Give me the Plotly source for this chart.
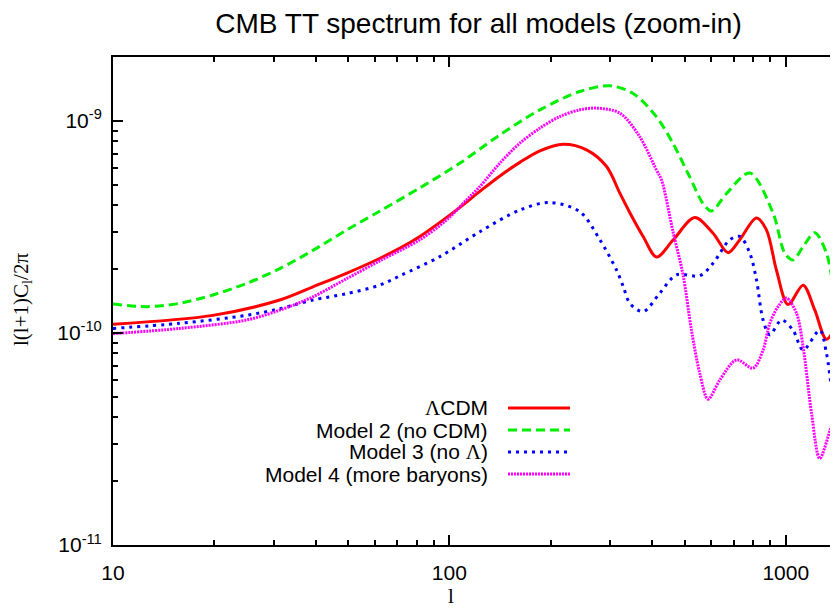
import math
import plotly.graph_objects as go

# multipole l values and l(l+1)C_l/2pi for each model
l_lcdm = [10, 19.8, 31.3, 39.3, 49.4, 62.2, 71.3, 81.7, 93.7, 107.5, 123.2, 141.3, 162, 185.8, 217.9, 255.7, 293.3, 321.2, 343.9, 376.7, 412.9, 462.4, 536.3, 608, 674, 730, 818, 876, 938, 1016, 1126, 1220, 1321, 1428]
c_lcdm = [1.10e-10, 1.21e-10, 1.43e-10, 1.65e-10, 1.91e-10, 2.25e-10, 2.51e-10, 2.85e-10, 3.32e-10, 3.91e-10, 4.65e-10, 5.50e-10, 6.37e-10, 7.22e-10, 7.76e-10, 7.30e-10, 6.09e-10, 4.56e-10, 3.69e-10, 2.85e-10, 2.28e-10, 2.74e-10, 3.50e-10, 2.95e-10, 2.39e-10, 2.75e-10, 3.48e-10, 3.06e-10, 1.98e-10, 1.36e-10, 1.68e-10, 1.28e-10, 0.934e-10, 1.13e-10]

l_m2 = [10, 12.6, 15.8, 19.8, 24.9, 31.3, 39.3, 49.4, 62.2, 81.7, 107.5, 141.3, 185.8, 244.2, 300, 351.8, 412.9, 462.4, 518.2, 567.8, 601.5, 666.6, 781.7, 917, 993, 1051, 1126, 1220, 1321, 1398, 1428]
c_m2 = [1.37e-10, 1.33e-10, 1.38e-10, 1.51e-10, 1.71e-10, 2.01e-10, 2.45e-10, 3.05e-10, 3.76e-10, 4.83e-10, 6.32e-10, 8.59e-10, 11.27e-10, 13.75e-10, 14.63e-10, 13.45e-10, 10.44e-10, 7.81e-10, 5.44e-10, 4.07e-10, 3.76e-10, 4.54e-10, 5.68e-10, 3.67e-10, 2.38e-10, 2.21e-10, 2.55e-10, 2.97e-10, 2.38e-10, 1.54e-10, 1.42e-10]

l_m3 = [10, 15.8, 24.9, 31.3, 39.3, 49.4, 62.0, 71.3, 93.7, 123.2, 162, 199, 244.2, 280.1, 314, 329, 343.9, 376.7, 422.3, 473.3, 555.1, 608.1, 681.7, 730.1, 781.7, 818.4, 856.2, 896.5, 971, 1051, 1126, 1262, 1321, 1367, 1415]
c_m3 = [1.05e-10, 1.11e-10, 1.21e-10, 1.30e-10, 1.43e-10, 1.53e-10, 1.68e-10, 1.86e-10, 2.29e-10, 3.00e-10, 3.80e-10, 4.12e-10, 3.73e-10, 2.75e-10, 1.98e-10, 1.65e-10, 1.38e-10, 1.26e-10, 1.54e-10, 1.88e-10, 1.86e-10, 2.13e-10, 2.75e-10, 2.85e-10, 2.38e-10, 1.78e-10, 1.15e-10, 0.979e-10, 1.15e-10, 1.03e-10, 0.831e-10, 1.03e-10, 0.802e-10, 0.558e-10, 0.418e-10]

l_m4 = [10, 15.8, 24.9, 31.3, 39.3, 49.4, 62.2, 81.7, 98.1, 112.5, 123.2, 141.3, 162, 185.8, 213, 244.2, 273.8, 321.2, 368.3, 412.9, 427.2, 462.4, 495, 524.4, 555.1, 587.5, 636.7, 713.8, 799.7, 856.2, 896.5, 948.6, 1005, 1076, 1126, 1193, 1262, 1367, 1415]
c_m4 = [0.992e-10, 1.05e-10, 1.15e-10, 1.28e-10, 1.48e-10, 1.80e-10, 2.19e-10, 2.75e-10, 3.41e-10, 4.24e-10, 4.90e-10, 6.32e-10, 7.85e-10, 9.24e-10, 10.48e-10, 11.27e-10, 11.48e-10, 10.87e-10, 8.40e-10, 5.85e-10, 5.27e-10, 2.99e-10, 1.88e-10, 1.03e-10, 0.645e-10, 0.487e-10, 0.600e-10, 0.746e-10, 0.682e-10, 0.831e-10, 1.11e-10, 1.33e-10, 1.46e-10, 1.24e-10, 0.862e-10, 0.418e-10, 0.256e-10, 0.361e-10, 0.396e-10]

names = ["<span style=\"font-family:'Liberation Serif'\">Λ</span>CDM",
         "Model 2 (no CDM)",
         "Model 3 (no <span style=\"font-family:'Liberation Serif'\">Λ</span>)",
         "Model 4 (more baryons)"]
colors = ["#ff0000", "#00ee00", "#0000ff", "#ff00ff"]
dashes = ["solid", "9px,5px", "3px,5px", "2px,1px"]

x_ticks = [10, 100, 1000]
x_ticktext = ["10", "100", "1000"]
y_ticks = [1e-11, 1e-10, 1e-9]
y_ticktext = ["10<sup>-11</sup>", "10<sup>-10</sup>", "10<sup>-9</sup>"]
x_range = [10, 1500]
y_range = [1e-11, 2e-9]

series = [(l_lcdm, c_lcdm), (l_m2, c_m2), (l_m3, c_m3), (l_m4, c_m4)]

# the page body adds an 8px offset; layout numbers below are in figure pixels
W, H = 838, 609
OFF = 8
L, R, T, B = 113 - OFF, 1, 57 - OFF, H - (545 - OFF)
pw, ph = W - L - R, H - T - B


def px(xref_px):
    return (xref_px - 113) / pw


def py(yref_px):
    return (545 - yref_px) / ph


fig = go.Figure()
for (lx, cy), col, dsh in zip(series, colors, dashes):
    fig.add_trace(go.Scatter(x=lx, y=cy, mode="lines",
                             line=dict(color=col, width=3, dash=dsh, shape="spline", smoothing=0.9),
                             showlegend=False, hoverinfo="skip"))

minor_x = [m * 10 ** e for e in range(1, 4) for m in range(2, 10)]
minor_y = [m * 10.0 ** e for e in range(-11, -8) for m in range(2, 10)]

axis_common = dict(type="log", tickmode="array", ticks="inside", ticklen=10, tickwidth=1.5,
                   tickcolor="black", showline=True, linecolor="black", linewidth=2,
                   mirror="ticks", showgrid=False, zeroline=False)

fig.update_layout(
    width=W, height=H,
    margin=dict(l=L, r=R, t=T, b=B, autoexpand=False),
    plot_bgcolor="white", paper_bgcolor="white",
    font=dict(family="Liberation Sans, Arial, sans-serif", size=21, color="black"),
    title=dict(text="CMB TT spectrum for all models (zoom-in)", x=(478.5 - OFF) / W, xref="container",
               xanchor="center", y=1 - (23 - OFF) / H, yanchor="middle",
               font=dict(size=28, family="Liberation Sans, Arial, sans-serif", color="black")),
    xaxis=dict(axis_common, range=[math.log10(x_range[0]), math.log10(x_range[1])],
               tickvals=x_ticks, ticktext=x_ticktext, ticklabelstandoff=8, automargin=False,
               minor=dict(tickmode="array", tickvals=minor_x, ticks="inside", ticklen=5,
                          tickwidth=1.5, tickcolor="black", showgrid=False)),
    yaxis=dict(axis_common, range=[math.log10(y_range[0]), math.log10(y_range[1])],
               tickvals=y_ticks, ticktext=y_ticktext, ticklabelstandoff=5, automargin=False,
               minor=dict(tickmode="array", tickvals=minor_y, ticks="inside", ticklen=5,
                          tickwidth=1.5, tickcolor="black", showgrid=False)),
)

# axis titles
fig.add_annotation(text="l(l+1)C<sub>l</sub>/2π", xref="paper", yref="paper",
                   x=px(22), y=py(300), textangle=-90, showarrow=False,
                   xanchor="center", yanchor="middle",
                   font=dict(family="Liberation Serif, Times New Roman, serif", size=21, color="black"))
fig.add_annotation(text="l", xref="paper", yref="paper",
                   x=px(451), y=py(596), showarrow=False,
                   xanchor="center", yanchor="middle",
                   font=dict(family="Liberation Serif, Times New Roman, serif", size=21, color="black"))

# gnuplot-style key: text right-aligned, sample line on the right
key_rows = [408, 430, 452, 474]
for name, col, dsh, row in zip(names, colors, dashes, key_rows):
    fig.add_annotation(text=name, xref="paper", yref="paper", x=px(490), y=py(row),
                       xanchor="right", yanchor="middle", showarrow=False,
                       font=dict(size=21, color="black"))
    fig.add_shape(type="line", xref="paper", yref="paper",
                  x0=px(508), x1=px(570), y0=py(row), y1=py(row),
                  line=dict(color=col, width=3, dash=dsh))

fig.write_html("out.html")
